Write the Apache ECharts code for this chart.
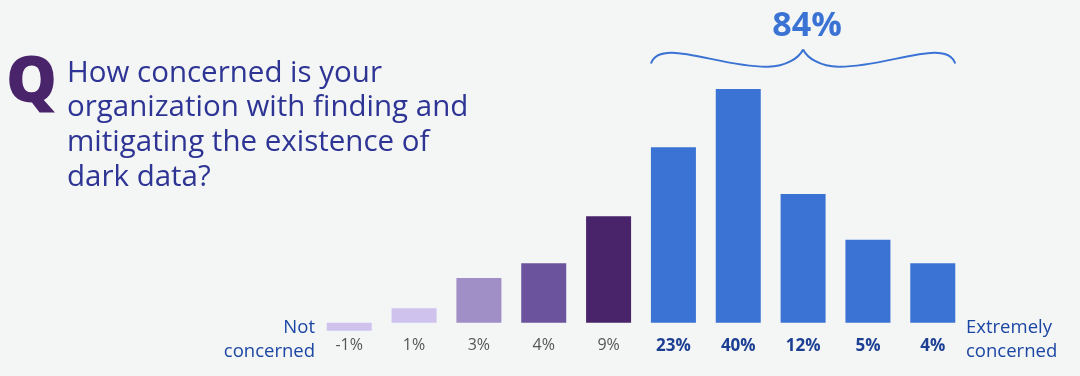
<!DOCTYPE html>
<html><head><meta charset="utf-8">
<script src="https://cdn.jsdelivr.net/npm/echarts@6/dist/echarts.min.js"></script>
<style>html,body{margin:0;padding:0;background:#f4f6f6}#c{width:1080px;height:376px}</style>
</head><body><div id="c"></div>
<script>
// Answer scale positions (1 = not concerned ... 10 = extremely concerned)
const categories = ['1', '2', '3', '4', '5', '6', '7', '8', '9', '10'];
// Percent labels printed under each bar
const tickLabels = ['-1%', '1%', '3%', '4%', '9%', '23%', '40%', '12%', '5%', '4%'];
// Bar heights as drawn in the picture (relative units)
const barHeights = [-8, 14.4, 44.7, 59.4, 106.4, 175.4, 233.7, 128.7, 83, 59.4];
// Bracketed group total and its range of bars
const groupLabel = '84%';
const groupStart = 5, groupEnd = 9;

const palette = ['#cfc3ee', '#cfc3ee', '#a08fc7', '#6b549d', '#4a246b',
                 '#3b73d4', '#3b73d4', '#3b73d4', '#3b73d4', '#3b73d4'];

const chart = echarts.init(document.getElementById('c'), null, {renderer: 'canvas'});
const BAR_W = 45;
chart.setOption({
  backgroundColor: '#f4f6f6',
  animation: false,
  grid: {left: 316.8, right: 114.8, top: 89, bottom: 45.3, containLabel: false},
  xAxis: {
    type: 'category', data: categories,
    axisLine: {show: false, onZero: false}, axisTick: {show: false},
    axisLabel: {
      margin: 7,
      formatter: (v, i) => (i >= groupStart ? '{b|' : '{g|') + tickLabels[i] + '}',
      rich: {
        g: {fontFamily: 'Open Sans', fontSize: 16, color: '#555555'},
        b: {fontFamily: 'Open Sans', fontSize: 17, fontWeight: 'bold', color: '#1c3f94'}
      }
    }
  },
  yAxis: {type: 'value', min: -8, max: 233.7, show: false, splitLine: {show: false}},
  series: [{
    type: 'bar', barWidth: BAR_W,
    data: barHeights.map((v, i) => ({value: v, itemStyle: {color: palette[i]}}))
  }]
});

// Brace + group label positioned from the axis scale
const pL = chart.convertToPixel({gridIndex: 0}, [groupStart, 0]);
const pR = chart.convertToPixel({gridIndex: 0}, [groupEnd, 0]);
const L = pL[0] - BAR_W / 2, R = pR[0] + BAR_W / 2, M = (L + R) / 2;
const yE = 63.5, yB = 66.7, yP = 49.5;
const braceStyle = {fill: 'none', stroke: '#3b73d4', lineWidth: 2};
const curves = [
  [L, yE, L + 9, 37, L + 70, 68, L + 117, yB],
  [L + 117, yB, L + 135, 66.5, M - 4, 58, M, yP],
  [M, yP, M + 4, 58, R - 135, 66.5, R - 117, yB],
  [R - 117, yB, R - 70, 68, R - 9, 37, R, yE]
].map(c => ({type: 'bezierCurve',
  shape: {x1: c[0], y1: c[1], cpx1: c[2], cpy1: c[3], cpx2: c[4], cpy2: c[5], x2: c[6], y2: c[7]},
  style: braceStyle}));

chart.setOption({
  graphic: [
    {type: 'text', x: 6, y: 84, style: {text: 'Q', verticalAlign: 'middle', fontFamily: 'Open Sans', fontSize: 64, fontWeight: 800, fill: '#4a246b'}},
    {type: 'text', x: 67, y: 56, style: {
      text: 'How concerned is your\norganization with finding and\nmitigating the existence of\ndark data?',
      fontFamily: 'Open Sans', fontSize: 29.5, lineHeight: 34.7, fill: '#2d3494'}},
    {type: 'text', x: 315, y: 316, style: {
      text: 'Not\nconcerned', align: 'right', fontFamily: 'Open Sans', fontSize: 18.5, lineHeight: 23.5, fill: '#1c46a3'}},
    {type: 'text', x: 966, y: 316, style: {
      text: 'Extremely\nconcerned', align: 'left', fontFamily: 'Open Sans', fontSize: 18.5, lineHeight: 23.5, fill: '#1c46a3'}},
    ...curves,
    {type: 'text', x: M + 4, y: 26, style: {text: groupLabel, align: 'center', verticalAlign: 'middle',
      fontFamily: 'Open Sans', fontSize: 34, fontWeight: 'bold', fill: '#3b73d4'}}
  ]
});
</script></body></html>
